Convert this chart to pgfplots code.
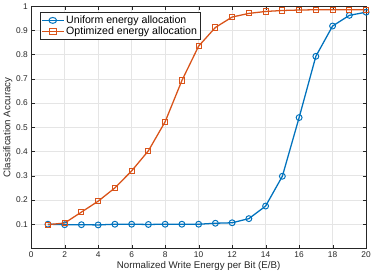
\documentclass[border=0pt]{standalone}
\usepackage{pgfplots}
\pgfplotsset{compat=1.18}
\usepackage{fontspec}
\setmainfont{Liberation Sans}
\definecolor{mblue}{rgb}{0,0.447,0.741}
\definecolor{morange}{rgb}{0.85,0.325,0.098}
\definecolor{axgray}{rgb}{0.15,0.15,0.15}
\begin{document}
\begin{tikzpicture}
\begin{axis}[
  scale only axis, width=340bp, height=246bp,
  xmin=0, xmax=20, ymin=0, ymax=1,
  xtick={0,2,...,20}, ytick={0.1,0.2,...,1.0},
  yticklabel style={/pgf/number format/fixed, /pgf/number format/precision=1},
  /pgf/number format/assume math mode=true,
  grid=major, major grid style={gray!20, line width=0.6pt},
  axis line style={axgray, line width=0.6pt},
  tick style={axgray}, tick align=inside, major tick length=3.5pt,
  ticklabel style={font=\fontsize{8.5}{10}\selectfont, text=axgray},
  label style={font=\fontsize{9.9}{12}\selectfont, text=axgray},
  xlabel={Normalized Write Energy per Bit (E/B)},
  ylabel={Classification Accuracy},
  xlabel style={yshift=3pt}, ylabel style={yshift=-3pt},
  legend style={at={(0.025,0.975)}, anchor=north west, draw=axgray, font=\fontsize{10.8}{12}\selectfont, row sep=-2pt, inner sep=1.5pt},
  legend cell align=left,
  legend image post style={xscale=1.3},
]
\addplot[mblue, line width=1.3pt, mark=o, mark size=3pt, mark options={line width=1pt}] coordinates {
(1,0.100)(2,0.098)(3,0.098)(4,0.097)(5,0.100)(6,0.100)(7,0.099)(8,0.100)(9,0.100)(10,0.100)
(11,0.104)(12,0.106)(13,0.123)(14,0.175)(15,0.298)(16,0.540)(17,0.793)(18,0.918)(19,0.962)(20,0.975)};
\addlegendentry{Uniform energy allocation}
\addplot[morange, line width=1.3pt, mark=square, mark size=2.6pt, mark options={line width=1pt}] coordinates {
(1,0.098)(2,0.105)(3,0.150)(4,0.195)(5,0.250)(6,0.320)(7,0.403)(8,0.523)(9,0.693)(10,0.835)
(11,0.912)(12,0.955)(13,0.970)(14,0.978)(15,0.982)(16,0.984)(17,0.985)(18,0.985)(19,0.985)(20,0.985)};
\addlegendentry{Optimized energy allocation}
\end{axis}
\end{tikzpicture}
\end{document}
